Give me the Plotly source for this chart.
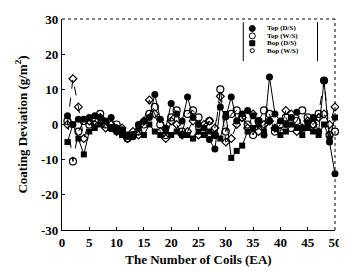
import plotly.graph_objects as go

coils = list(range(1, 51))
top_ds = [2.5, 0, 1.5, 1.5, 2, 2.5, 2, 1, 2, -1, -1.5, -3, -3.5, 0, 1, 2, 8.5, 1.5, -1, 6,
          3, 1, 7.8, 2, 0, -1, -4.3, -7, 5, 2.2, 7.8, 1, 3, 4, 2.5, 1, -3, 13.5, 3, 1,
          0, 2, 3.5, -1, 0.5, 2, -2, 12.5, -5, -14]
top_ws = [1, -10.5, -2, 1, 0, 1, 3, 0, -1, 0, -2, -4, -3, -2, 0, 3, 5, 0, -3, 2,
          4, -2, 3, 4, 2, -2, 1, -3, 10, -2, 3, 4, 2, 0, -3, 1, 4, 3, -2, 0,
          2, -1, 1, 4, 2, 0, 3, 12.5, -3, -2]
bop_ds = [-5, 0, -4, -8.5, -2, -1, 0, 1, -1, -2, -3, -3.5, -3, -1, -3, 0, -2, -3, -2, -3,
          -2, -3, -3, -4, -2, -3, -2, -3, -4, 3, -9.5, -7.5, -6, -2, -1, 0, -2, 1, -1, -3,
          -2, 0, -1, -3, -1, -2, -3, 0, -4, 2]
bop_ws = [0, 13, 5, -4, 1, 0, 2, -1, 0, -2, -1, -4, -2, -3, 1, 7, 3, -2, -4, 1,
          0, -3, -2, 1, -3, 0, 1, -1, 8, -5, -4, 0, 2, -1, 3, -2, 0, 1, -1, -2,
          4, 3, -2, -1, 1, 0, 2, 3, 0, 5]
series_names = ["Top (D/S)", "Top (W/S)", "Bop (D/S)", "Bop (W/S)"]
x_ticks = [0, 5, 10, 15, 20, 25, 30, 35, 40, 45, 50]
y_ticks = [-30, -20, -10, 0, 10, 20, 30]

FONT = "Liberation Serif, Times New Roman, serif"
styles = [
    dict(line=dict(color="black", width=1),
         marker=dict(symbol="circle", size=7, color="black")),
    dict(line=dict(color="black", width=1, dash="dash"),
         marker=dict(symbol="circle-open", size=7, color="black", line=dict(width=1.2))),
    dict(line=dict(color="black", width=1),
         marker=dict(symbol="square", size=6, color="black")),
    dict(line=dict(color="black", width=1, dash="dash"),
         marker=dict(symbol="diamond-open", size=6, color="black", line=dict(width=1.2))),
]

fig = go.Figure()
for name, vals, st in zip(series_names, [top_ds, top_ws, bop_ds, bop_ws], styles):
    fig.add_trace(go.Scatter(x=coils, y=vals, name=name, mode="lines+markers",
                             showlegend=False, cliponaxis=False, **st))

# manual compact legend (bracketed box, top right)
row_y = [0.955, 0.920, 0.885, 0.850]
mx, tx = 0.697, 0.745
shapes = [
    dict(type="line", xref="paper", yref="paper", x0=0, x1=1, y0=1, y1=1,
         line=dict(color="black", width=1, dash="dot")),
    dict(type="line", xref="paper", yref="paper", x0=1, x1=1, y0=0, y1=1,
         line=dict(color="black", width=1, dash="dot")),
    dict(type="line", xref="paper", yref="paper", x0=0.664, x1=0.664, y0=0.80, y1=0.985,
         line=dict(color="black", width=1)),
    dict(type="line", xref="paper", yref="paper", x0=0.936, x1=0.936, y0=0.80, y1=0.985,
         line=dict(color="black", width=1)),
]
sym_specs = [("circle", 6, "black", "black"), ("circle", 6, "white", "black"),
             ("rect", 5, "black", "black"), ("circle", 4, "white", "black")]
annotations = []
for (kind, s, fill, edge), yy, name in zip(sym_specs, row_y, series_names):
    shapes.append(dict(type=kind, xref="paper", yref="paper", xsizemode="pixel", ysizemode="pixel",
                       xanchor=mx, yanchor=yy, x0=-s / 2, x1=s / 2, y0=-s / 2, y1=s / 2,
                       fillcolor=fill, line=dict(color=edge, width=1)))
    annotations.append(dict(x=tx, y=yy, xref="paper", yref="paper", text="<b>" + name + "</b>",
                            showarrow=False, xanchor="left", yanchor="middle",
                            font=dict(family=FONT, size=7, color="black")))

# page body has an 8px default margin: figure is shrunk so the plot lands where the reference has it
fig.update_layout(
    width=339, height=263,
    margin=dict(l=54, r=12, t=4, b=41),
    paper_bgcolor="white", plot_bgcolor="white",
    font=dict(family=FONT, color="black", size=13),
    showlegend=False,
    xaxis=dict(range=[0, 50], tickvals=x_ticks, ticktext=["<b>%d</b>" % v for v in x_ticks],
               showline=True, linecolor="black", linewidth=1.2, ticklabeloverflow="allow",
               ticks="inside", ticklen=3, tickcolor="black", showgrid=False, zeroline=False,
               tickfont=dict(family=FONT, size=13),
               title=dict(text="<b>The Number of Coils (EA)</b>", standoff=6,
                          font=dict(family=FONT, size=13))),
    yaxis=dict(range=[-30, 30], tickvals=y_ticks, ticktext=["<b>%d</b>" % v for v in y_ticks],
               showline=True, linecolor="black", linewidth=1.2, ticklabeloverflow="allow",
               ticks="inside", ticklen=3, tickcolor="black", showgrid=False, zeroline=False,
               tickfont=dict(family=FONT, size=13),
               title=dict(text="<b>Coating Deviation (g/m<sup>2</sup>)</b>", standoff=10,
                          font=dict(family=FONT, size=13))),
    shapes=shapes,
    annotations=annotations,
)
fig.write_html("out.html")
